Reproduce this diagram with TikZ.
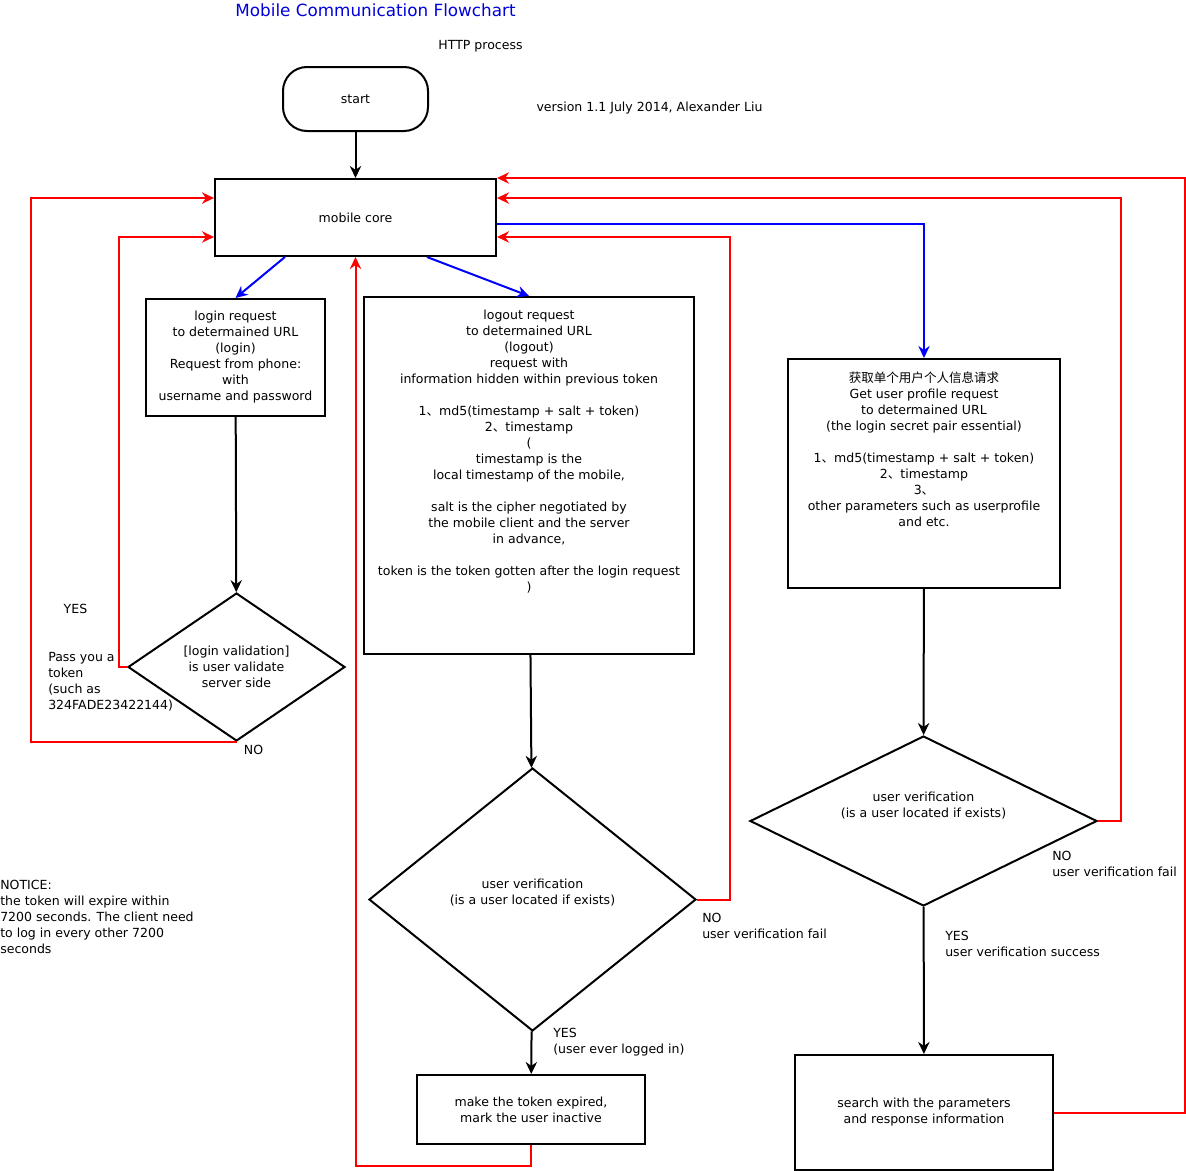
\documentclass[tikz,border=0pt]{standalone}
\usepackage{fontspec}
\setmainfont{DejaVu Sans}
\newfontfamily\cjk{Noto Sans CJK SC}
\usetikzlibrary{shapes.geometric}
\usetikzlibrary{arrows.meta}
\usetikzlibrary{positioning}

\newcommand{\dun}{{\cjk 、}}

\begin{document}
\begin{tikzpicture}[x=0.75pt,y=-0.75pt,
  font=\fontsize{9.4}{12}\selectfont,
  box/.style={draw,line width=1.5pt,align=center,inner sep=0pt},
  chk/.style={draw,diamond,line width=1.5pt,inner sep=0pt,align=center},
  lbl/.style={align=left,inner sep=0pt,anchor=north west},
  blk/.style={draw=black,line width=1.5pt,arrows={-Stealth[length=9pt,width=8.5pt]}},
  rd/.style={blk,draw=red},
  bl/.style={blk,draw=blue}]
\useasboundingbox (0,0) rectangle (1186,1171);

\node[text=blue!85!black,font=\fontsize{12.6}{15}\selectfont] (title) at (375.5,10) {Mobile Communication Flowchart};
\node (http) at (480.5,46) {HTTP process};
\node (version) at (649.5,108) {version 1.1 July 2014, Alexander Liu};

\node[box,rounded corners=18pt,minimum width=108.75pt,minimum height=48pt] (start) at (355.5,99) {start};
\node[box,minimum width=210.75pt,minimum height=57.75pt] (core) at (355.5,217.5) {mobile core};
\node[box,minimum width=134.25pt,minimum height=87.75pt] (login) at (235.5,357.5) {login request\\to determained URL\\(login)\\Request from phone:\\with\\username and password};

\node[box,minimum width=247.5pt,minimum height=267.75pt] (logout) at (529,475.5) {};
\node[anchor=north,align=center,inner sep=0pt] (logouttxt) at ([yshift=-10pt]logout.north) {logout request\\to determained URL\\(logout)\\request with\\information hidden within previous token\\[12pt]1\dun md5(timestamp + salt + token)\\2\dun timestamp\\(\\timestamp is the\\local timestamp of the mobile,\\[12pt]salt is the cipher negotiated by\\the mobile client and the server\\in advance,\\[12pt]token is the token gotten after the login request\\)};

\node[box,minimum width=204pt,minimum height=171.75pt] (profile) at (924,473.5) {};
\node[anchor=north,align=center,inner sep=0pt] (profiletxt) at ([yshift=-10pt]profile.north) {{\cjk 获取单个用户个人信息请求}\\Get user profile request\\to determained URL\\(the login secret pair essential)\\[12pt]1\dun md5(timestamp + salt + token)\\2\dun timestamp\\3\dun\\other parameters such as userprofile\\and etc.};

\node[box,minimum width=171pt,minimum height=51.75pt] (expire) at (531,1109.5) {make the token expired,\\mark the user inactive};
\node[box,minimum width=193.5pt,minimum height=86.25pt] (search) at (924,1112.5) {search with the parameters\\and response information};

% decisions
\node[chk,minimum width=162.75pt,minimum height=111pt] (loginchk) at (236.5,667) {[login validation]\\is user validate\\server side};
\node[chk,minimum width=245.25pt,minimum height=197.25pt] (logoutchk) at (532.5,899.5) {};
\node[inner sep=0pt,align=center] (logoutchktxt) at (532.5,893) {user verification\\(is a user located if exists)};
\node[chk,minimum width=260.25pt,minimum height=127.5pt] (profilechk) at (923.5,821) {};
\node[inner sep=0pt,align=center] (profilechktxt) at (923.5,806) {user verification\\(is a user located if exists)};

\node (yes1) at (75.5,609) {YES};
\node[lbl] (token) at (48,652) {Pass you a\\token\\(such as\\324FADE23422144)};
\node (no1) at (253.5,750) {NO};
\node[lbl] (no2) at (702,913) {NO\\user verification fail};
\node[lbl] (yes2) at (553,1028) {YES\\(user ever logged in)};
\node[lbl] (no3) at (1052,851) {NO\\user verification fail};
\node[lbl] (yes3) at (945,931) {YES\\user verification success};
\node[lbl] (notice) at (0,880) {NOTICE:\\the token will expire within\\7200 seconds. The client need\\to log in every other 7200\\seconds};

\coordinate (coreW1) at ([yshift=14.6pt]core.west);
\coordinate (coreW2) at ([yshift=-14.6pt]core.west);
\coordinate (coreE1) at ([yshift=14.6pt]core.east);
\coordinate (coreE2) at ([yshift=-14.6pt]core.east);
\coordinate (coreE3) at ([yshift=-4.9pt]core.east);
\coordinate (coreS1) at ([xshift=-52.9pt]core.south);
\coordinate (coreS2) at ([xshift=53.6pt]core.south);

\draw[blk] (start) -- (core);
\draw[bl] (coreS1) -- (login.north);
\draw[bl] (coreS2) -- (logout.north);
\draw[bl] (coreE3) -| (profile.north);
\draw[blk] (login) -- (loginchk);
\draw[blk] (logout) -- (logoutchk);
\draw[blk] (logoutchk) -- (expire);
\draw[blk] (profile) -- (profilechk);
\draw[blk] (profilechk) -- (search);

% back to mobile core
\draw[rd] (loginchk.west) -- ++(-8,0) |- (coreW2);
\draw[rd] (loginchk.south) -- ++(-206,0) |- (coreW1);
\draw[rd] (logoutchk.east) -- ++(33,0) |- (coreE2);
\draw[rd] (expire.south) -- ++(0,21) -| (core.south);
\draw[rd] (profilechk.east) -- ++(23,0) |- (coreE1);
\draw[rd] (search.east) -- ++(130.5,0) |- (core.north east);

\end{tikzpicture}
\end{document}
